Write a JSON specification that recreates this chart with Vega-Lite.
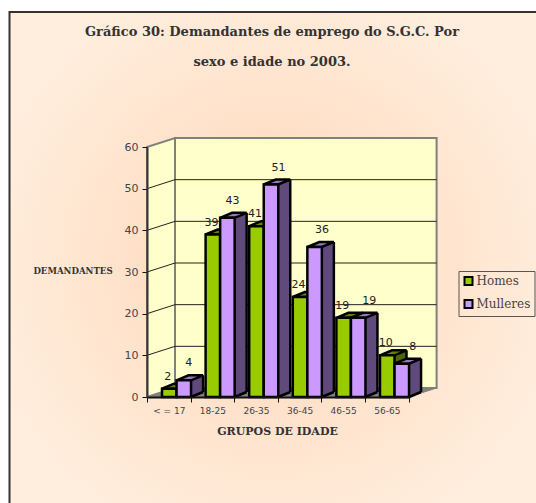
{
"$schema":"https://vega.github.io/schema/vega-lite/v6.json",
"width":536,"height":503,"padding":0,"autosize":"none","background":"white",
"view":{"stroke":null},
"title":{"text":["Gráfico 30: Demandantes de emprego do S.G.C. Por","sexo e idade no 2003."],"font":"DejaVu Serif","fontSize":13,"fontWeight":"bold","color":"#333","lineHeight":30,"anchor":"middle","frame":"group","dx":4,"offset":-69},
"data":{"values":[
{"cat":"< = 17","sexo":"Homes","val":2},{"cat":"< = 17","sexo":"Mulleres","val":4},
{"cat":"18-25","sexo":"Homes","val":39},{"cat":"18-25","sexo":"Mulleres","val":43},
{"cat":"26-35","sexo":"Homes","val":41},{"cat":"26-35","sexo":"Mulleres","val":51},
{"cat":"36-45","sexo":"Homes","val":24},{"cat":"36-45","sexo":"Mulleres","val":36},
{"cat":"46-55","sexo":"Homes","val":19},{"cat":"46-55","sexo":"Mulleres","val":19},
{"cat":"56-65","sexo":"Homes","val":10},{"cat":"56-65","sexo":"Mulleres","val":8}
]},
"encoding":{
"x":{"field":"cat","type":"nominal","sort":null,"title":"GRUPOS DE IDADE",
"scale":{"domain":["< = 17","18-25","26-35","36-45","46-55","56-65"],"range":[147,408.6],"paddingInner":0,"paddingOuter":0},
"axis":{"orient":"bottom","offset":-106,"zindex":1,"labelAngle":0,"tickBand":"extent","domainColor":"#111","domainWidth":2,"tickColor":"#111","tickSize":5,"tickWidth":1,"labelFont":"DejaVu Sans","labelFontSize":9,"labelColor":"#444","labelPadding":4,"titleFont":"DejaVu Serif","titleFontWeight":"bold","titleFontSize":11,"titleColor":"#333","titleX":277,"titleY":34,"titleAlign":"center","titleBaseline":"middle"}},
"y":{"field":"val","type":"quantitative","title":"DEMANDANTES",
"scale":{"domain":[0,60],"range":[397,147],"nice":false,"zero":true},
"axis":{"orient":"left","offset":-147,"zindex":1,"values":[0,10,20,30,40,50,60],"grid":false,"domainColor":"#333","domainWidth":2,"tickColor":"#111","tickSize":5,"tickWidth":1,"labelFont":"DejaVu Sans","labelFontSize":11,"labelColor":"#444","labelPadding":4,"titleFont":"DejaVu Serif","titleFontWeight":"bold","titleFontSize":8.6,"titleColor":"#333","titleAngle":0,"titleX":-74.5,"titleY":270,"titleAlign":"center","titleBaseline":"middle"}}
},
"layer":[
{"data":{"values":[{"cat":"< = 17","base":0}]},
"mark":{"type":"point","filled":true,"opacity":1,"size":4,"shape":"M-137.5,-385L400,-385L400,120L-137.5,120Z","stroke":"#333","strokeWidth":2,"fill":{"gradient":"radial","x1":0.49,"y1":0.5,"r1":0,"x2":0.49,"y2":0.5,"r2":0.55,"stops":[{"offset":0,"color":"#FFD3AC"},{"offset":0.5,"color":"#FFE2CB"},{"offset":1,"color":"#FFEEDD"}]}},
"encoding":{"x":{"field":"cat","type":"nominal","bandPosition":0},"y":{"field":"base","type":"quantitative"}}},
{"data":{"values":[{"cat":"< = 17","base":0}]},
"mark":{"type":"point","filled":true,"opacity":1,"size":4,"shape":"M0,0L261.6,0L289.6,-9L28,-9Z","fill":"#808080","stroke":"#808080","strokeWidth":1},
"encoding":{"x":{"field":"cat","type":"nominal","bandPosition":0},"y":{"field":"base","type":"quantitative"}}},
{"data":{"values":[{"cat":"< = 17","base":0}]},
"mark":{"type":"point","filled":true,"opacity":1,"size":4,"shape":"M0,0L28,-9L28,-259L0,-250Z","fill":"#FFFFCC","stroke":"#808080","strokeWidth":2},
"encoding":{"x":{"field":"cat","type":"nominal","bandPosition":0},"y":{"field":"base","type":"quantitative"}}},
{"data":{"values":[{"cat":"< = 17","base":0}]},
"mark":{"type":"point","filled":true,"opacity":1,"size":4,"shape":"M28,-9L289.6,-9L289.6,-259L28,-259Z","fill":"#FFFFCC","stroke":"#808080","strokeWidth":2},
"encoding":{"x":{"field":"cat","type":"nominal","bandPosition":0},"y":{"field":"base","type":"quantitative"}}},
{"data":{"values":[{"cat":"< = 17","t":10},{"cat":"< = 17","t":20},{"cat":"< = 17","t":30},{"cat":"< = 17","t":40},{"cat":"< = 17","t":50}]},
"mark":{"type":"point","filled":false,"opacity":1,"size":4,"shape":"M0,0L28,-9L289.6,-9","fill":"transparent","stroke":"#222","strokeWidth":1},
"encoding":{"x":{"field":"cat","type":"nominal","bandPosition":0},"y":{"field":"t","type":"quantitative"}}},

{"transform":[{"filter":"datum.sexo=='Homes'"}],"mark":{"type":"bar","width":12,"xOffset":13.7,"yOffset":-5,"y2Offset":-5,"fill":"#4D6600"},"encoding":{"y2":{"datum":0}}},
{"transform":[{"filter":"datum.sexo=='Homes'"}],"mark":{"type":"point","filled":true,"opacity":1,"size":4,"xOffset":0.45,"shape":"M7.25,0L19.25,-5L7.25,-5Z","fill":"#4D6600","stroke":null},"encoding":{"y":{"datum":0}}},
{"transform":[{"filter":"datum.sexo=='Homes'"}],"mark":{"type":"point","filled":true,"opacity":1,"size":4,"xOffset":0.45,"shape":"M-7.25,0L7.25,0L19.25,-5L4.75,-5Z","fill":"#668000","stroke":"#000","strokeWidth":2.5}},
{"transform":[{"filter":"datum.sexo=='Homes'"}],"mark":{"type":"rule","xOffset":19.7,"yOffset":-5,"y2Offset":-5,"stroke":"#000","strokeWidth":2.5},"encoding":{"y2":{"datum":0}}},
{"transform":[{"filter":"datum.sexo=='Homes'"}],"mark":{"type":"point","filled":false,"opacity":1,"size":4,"xOffset":0.45,"shape":"M7.25,0L19.25,-5","fill":"transparent","stroke":"#000","strokeWidth":2.5},"encoding":{"y":{"datum":0}}},
{"transform":[{"filter":"datum.sexo=='Homes'"}],"mark":{"type":"bar","width":14.5,"xOffset":0.45,"stroke":"#000","strokeWidth":2.5},
"encoding":{"color":{"field":"sexo","type":"nominal","scale":{"domain":["Homes","Mulleres"],"range":["#99CC00","#CC99FF"]},
"legend":{"title":null,"orient":"none","legendX":458.5,"legendY":271,"padding":4,"strokeColor":"#555","symbolType":"square","symbolSize":64,"symbolStrokeColor":"#000","symbolStrokeWidth":2,"labelFont":"DejaVu Serif","labelFontSize":12,"labelColor":"#444","rowPadding":7,"labelOffset":2}}}},

{"transform":[{"filter":"datum.sexo=='Mulleres'"}],"mark":{"type":"bar","width":12,"xOffset":28.25,"yOffset":-5,"y2Offset":-5,"fill":"#604A7B"},"encoding":{"y2":{"datum":0}}},
{"transform":[{"filter":"datum.sexo=='Mulleres'"}],"mark":{"type":"point","filled":true,"opacity":1,"size":4,"xOffset":15,"shape":"M7.25,0L19.25,-5L7.25,-5Z","fill":"#604A7B","stroke":null},"encoding":{"y":{"datum":0}}},
{"transform":[{"filter":"datum.sexo=='Mulleres'"}],"mark":{"type":"point","filled":true,"opacity":1,"size":4,"xOffset":15,"shape":"M-7.25,0L7.25,0L19.25,-5L4.75,-5Z","fill":"#9977BF","stroke":"#000","strokeWidth":2.5}},
{"transform":[{"filter":"datum.sexo=='Mulleres'"}],"mark":{"type":"rule","xOffset":34.25,"yOffset":-5,"y2Offset":-5,"stroke":"#000","strokeWidth":2.5},"encoding":{"y2":{"datum":0}}},
{"transform":[{"filter":"datum.sexo=='Mulleres'"}],"mark":{"type":"point","filled":false,"opacity":1,"size":4,"xOffset":15,"shape":"M7.25,0L19.25,-5","fill":"transparent","stroke":"#000","strokeWidth":2.5},"encoding":{"y":{"datum":0}}},
{"transform":[{"filter":"datum.sexo=='Mulleres'"}],"mark":{"type":"bar","width":14.5,"xOffset":15,"stroke":"#000","strokeWidth":2.5},
"encoding":{"color":{"field":"sexo","type":"nominal"}}},

{"transform":[{"filter":"datum.sexo=='Homes'"}],"mark":{"type":"text","font":"DejaVu Sans","fontSize":11,"color":"#222","xOffset":-1,"yOffset":-12},"encoding":{"text":{"field":"val","type":"quantitative"}}},
{"transform":[{"filter":"datum.sexo=='Mulleres' && (datum.cat=='< = 17' || datum.cat=='18-25')"}],"mark":{"type":"text","font":"DejaVu Sans","fontSize":11,"color":"#222","xOffset":20,"yOffset":-17},"encoding":{"text":{"field":"val","type":"quantitative"}}},
{"transform":[{"filter":"datum.sexo=='Mulleres' && (datum.cat=='26-35' || datum.cat=='36-45')"}],"mark":{"type":"text","font":"DejaVu Sans","fontSize":11,"color":"#222","xOffset":22.5,"yOffset":-17},"encoding":{"text":{"field":"val","type":"quantitative"}}},
{"transform":[{"filter":"datum.sexo=='Mulleres' && (datum.cat=='46-55' || datum.cat=='56-65')"}],"mark":{"type":"text","font":"DejaVu Sans","fontSize":11,"color":"#222","xOffset":26,"yOffset":-17},"encoding":{"text":{"field":"val","type":"quantitative"}}}
]
}
